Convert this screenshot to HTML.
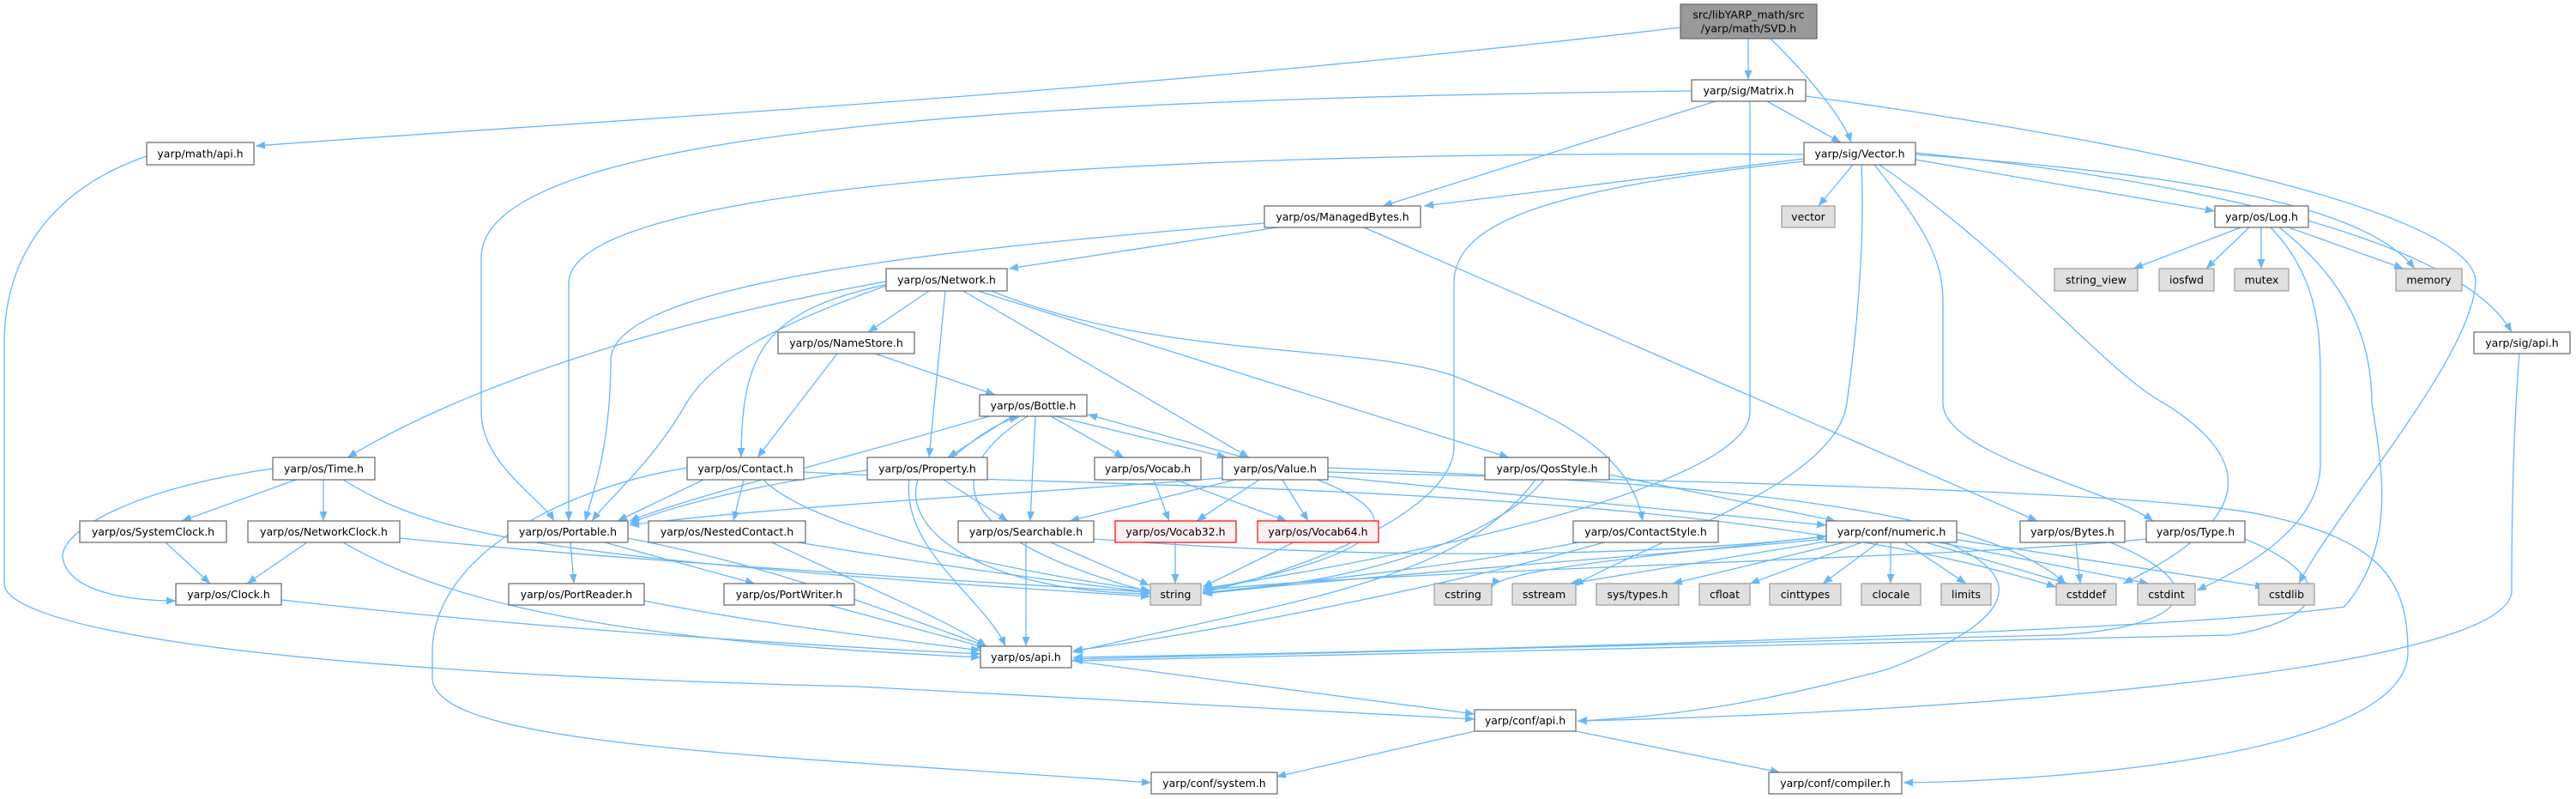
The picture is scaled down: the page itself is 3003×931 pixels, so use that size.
<!DOCTYPE html>
<html><head><meta charset="utf-8"><style>
html,body{margin:0;padding:0;background:#fff;}
svg{display:block;}
text{font-family:"DejaVu Sans","Liberation Sans",sans-serif;font-size:12.5px;fill:#000;text-anchor:middle;dominant-baseline:central;}
.e{fill:none;stroke:#63b8ff;stroke-width:1.3;marker-end:url(#a);}
.n{fill:#fff;stroke:#666;stroke-width:1.2;}
.g{fill:#e0e0e0;stroke:#999;stroke-width:1.2;}
.r{fill:#fff0f0;stroke:#f00;stroke-width:1.2;}
.s{fill:#999;stroke:#666;stroke-width:1.2;}
</style></head><body>
<svg width="3003" height="931" viewBox="0 0 3003 931" xmlns="http://www.w3.org/2000/svg">
<defs><marker id="a" markerUnits="userSpaceOnUse" markerWidth="12" markerHeight="10" refX="11" refY="4.5" orient="auto"><path d="M0,0 L11,4.5 L0,9 z" fill="#63b8ff"/></marker></defs>
<g>
<path class="e" d="M1959,32 C1300,110 700,140 298,170"/>
<path class="e" d="M2038,45 L2038,93"/>
<path class="e" d="M2064,45 C2110,90 2150,140 2158,166"/>
<path class="e" d="M2060,118 L2146,166"/>
<path class="e" d="M2000,118 L1612,240"/>
<path class="e" d="M1972,106 C1200,115 561,150 561,300 L561,480 C561,540 630,580 646,607"/>
<path class="e" d="M2103,180 C1500,175 663,200 663,330 L663,607"/>
<path class="e" d="M1474,260 C1100,290 712,330 712,420 C712,520 690,580 682,607"/>
<path class="e" d="M2040,118 L2040,480 C2040,560 1700,640 1402,686"/>
<path class="e" d="M2105,112 C2600,180 2890,260 2886,330 C2880,420 2720,600 2680,680"/>
<path class="e" d="M2233,178 C2650,220 2880,300 2928,387"/>
<path class="e" d="M2103,185 L1660,240"/>
<path class="e" d="M2103,188 C1800,220 1695,260 1695,330 L1695,520 C1695,600 1500,670 1402,690"/>
<path class="e" d="M2160,192 L2120,240"/>
<path class="e" d="M2233,186 L2582,246"/>
<path class="e" d="M2233,180 C2500,200 2750,230 2815,313"/>
<path class="e" d="M2185,192 C2240,260 2265,300 2265,350 L2265,470 C2265,530 2460,570 2510,607"/>
<path class="e" d="M2191,192 C2350,300 2450,430 2523,470 C2620,530 2640,600 2475,680"/>
<path class="e" d="M2170,192 C2175,300 2160,420 2153,470 C2140,560 1950,620 1835,682"/>
<path class="e" d="M2612,265 L2487,313"/>
<path class="e" d="M2622,265 L2572,313"/>
<path class="e" d="M2636,265 L2636,313"/>
<path class="e" d="M2668,265 L2802,313"/>
<path class="e" d="M2647,265 C2700,320 2705,380 2705,440 L2705,540 C2705,620 2600,670 2561,688"/>
<path class="e" d="M2657,265 C2740,330 2765,400 2765,470 C2780,560 2790,640 2733,707 C2500,740 1600,760 1251,766"/>
<path class="e" d="M2937,412 C2930,500 2928,600 2928,690 C2920,780 2300,830 1839,840"/>
<path class="e" d="M1489,265 L1176,313"/>
<path class="e" d="M1590,265 L2375,607"/>
<path class="e" d="M1033,328 C800,370 560,440 405,533"/>
<path class="e" d="M1033,333 C900,380 830,420 800,470 C760,540 710,580 690,607"/>
<path class="e" d="M1040,330 C900,360 864,400 864,533"/>
<path class="e" d="M1083,339 L1012,387"/>
<path class="e" d="M1102,339 L1083,533"/>
<path class="e" d="M1123,339 L1456,533"/>
<path class="e" d="M1140,339 L1759,533"/>
<path class="e" d="M1156,339 C1350,420 1600,400 1700,440 C1800,480 1900,520 1915,607"/>
<path class="e" d="M976,412 L883,533"/>
<path class="e" d="M1020,412 L1160,460"/>
<path class="e" d="M1230,485 L1430,533"/>
<path class="e" d="M1450,533 L1268,483"/>
<path class="e" d="M1180,485 L1105,533"/>
<path class="e" d="M1110,533 C1150,500 1170,490 1188,486"/>
<path class="e" d="M1225,485 L1310,533"/>
<path class="e" d="M1207,485 L1201,607"/>
<path class="e" d="M1198,485 C1110,540 1080,620 1341,690"/>
<path class="e" d="M1153,485 C1000,530 800,580 734,607"/>
<path class="e" d="M1548,550 C1900,560 2500,570 2638,600 C2780,630 2807,680 2807,760 C2807,880 2400,910 2219,912"/>
<path class="e" d="M1548,555 L2129,612"/>
<path class="e" d="M1548,545 C1900,560 2300,580 2408,680"/>
<path class="e" d="M1536,559 C1640,600 1640,640 1402,688"/>
<path class="e" d="M1425,557 C1200,575 900,590 734,612"/>
<path class="e" d="M1440,559 L1247,607"/>
<path class="e" d="M1468,559 L1395,607"/>
<path class="e" d="M1495,559 L1525,607"/>
<path class="e" d="M1345,559 L1363,607"/>
<path class="e" d="M1370,559 L1500,607"/>
<path class="e" d="M1100,559 L1175,607"/>
<path class="e" d="M1070,559 C1050,620 1150,690 1341,692"/>
<path class="e" d="M1060,559 C1050,640 1150,700 1172,753"/>
<path class="e" d="M1011,548 C900,560 780,590 734,610"/>
<path class="e" d="M1225,632 L1340,682"/>
<path class="e" d="M1196,632 L1196,753"/>
<path class="e" d="M1275,628 C1700,660 2000,640 2129,625"/>
<path class="e" d="M1370,632 L1370,680"/>
<path class="e" d="M1508,632 L1402,684"/>
<path class="e" d="M1800,559 C1750,620 1600,680 1402,690"/>
<path class="e" d="M1790,559 C1700,680 1500,700 1251,760"/>
<path class="e" d="M1876,553 L2140,607"/>
<path class="e" d="M1840,632 C1700,660 1500,680 1402,691"/>
<path class="e" d="M1870,632 C1700,680 1400,740 1251,758"/>
<path class="e" d="M2129,625 C1900,650 1750,665 1739,684"/>
<path class="e" d="M2135,630 L1830,680"/>
<path class="e" d="M2150,632 L1950,680"/>
<path class="e" d="M2170,632 L2040,680"/>
<path class="e" d="M2190,632 L2125,680"/>
<path class="e" d="M2204,632 L2204,680"/>
<path class="e" d="M2220,632 L2292,680"/>
<path class="e" d="M2245,632 L2410,680"/>
<path class="e" d="M2260,632 L2505,680"/>
<path class="e" d="M2275,628 L2640,684"/>
<path class="e" d="M2129,628 C1900,650 1600,670 1402,692"/>
<path class="e" d="M2268,632 C2360,670 2360,720 2200,780 C2050,820 1950,835 1839,840"/>
<path class="e" d="M2420,632 L2425,680"/>
<path class="e" d="M2460,632 C2580,680 2560,730 2400,740 L1251,768"/>
<path class="e" d="M2502,628 C2300,650 1600,665 1402,688"/>
<path class="e" d="M2617,628 C2720,670 2720,720 2600,740 L1251,770"/>
<path class="e" d="M867,559 L855,607"/>
<path class="e" d="M820,559 L720,607"/>
<path class="e" d="M890,559 C950,620 1200,670 1341,688"/>
<path class="e" d="M937,550 C1300,570 2000,560 2397,684"/>
<path class="e" d="M801,545 C650,570 504,650 504,760 L504,790 C504,870 900,880 1342,912"/>
<path class="e" d="M930,632 C1100,660 1250,680 1341,690"/>
<path class="e" d="M900,632 C1000,680 1100,720 1150,753"/>
<path class="e" d="M345,559 L212,607"/>
<path class="e" d="M377,559 L377,607"/>
<path class="e" d="M318,546 C150,570 70,620 73,650 C80,690 150,700 205,700"/>
<path class="e" d="M400,559 C500,620 600,650 1341,695"/>
<path class="e" d="M193,632 L245,680"/>
<path class="e" d="M358,632 L288,680"/>
<path class="e" d="M466,627 C700,650 1000,670 1341,690"/>
<path class="e" d="M400,632 C550,720 800,750 1143,766"/>
<path class="e" d="M328,699 C600,730 900,750 1143,762"/>
<path class="e" d="M665,632 L669,680"/>
<path class="e" d="M705,632 L880,680"/>
<path class="e" d="M732,627 C900,660 1000,700 1150,753"/>
<path class="e" d="M751,700 C900,730 1050,745 1143,758"/>
<path class="e" d="M966,705 L1150,755"/>
<path class="e" d="M171,182 C60,220 5,300 5,400 L5,680 C5,720 200,780 1000,800 C1300,815 1600,830 1719,838"/>
<path class="e" d="M1249,770 L1719,832"/>
<path class="e" d="M1719,852 L1488,905"/>
<path class="e" d="M1837,852 L2075,900"/>
</g>
<g>
<rect class="s" x="1959" y="5" width="159" height="40"/><text x="2038.5" y="17">src/libYARP_math/src</text><text x="2038.5" y="33">/yarp/math/SVD.h</text>
<rect class="n" x="1972" y="93" width="133" height="25"/><text x="2038.5" y="105.5">yarp/sig/Matrix.h</text>
<rect class="n" x="2103" y="166" width="130" height="26"/><text x="2168" y="179">yarp/sig/Vector.h</text>
<rect class="n" x="171" y="166" width="125" height="26"/><text x="233.5" y="179">yarp/math/api.h</text>
<rect class="n" x="1474" y="240" width="182" height="25"/><text x="1565" y="252.5">yarp/os/ManagedBytes.h</text>
<rect class="g" x="2077" y="240" width="62" height="25"/><text x="2108" y="252.5">vector</text>
<rect class="n" x="2582" y="240" width="109" height="25"/><text x="2636.5" y="252.5">yarp/os/Log.h</text>
<rect class="n" x="1033" y="313" width="141" height="26"/><text x="1103.5" y="326">yarp/os/Network.h</text>
<rect class="g" x="2395" y="313" width="97" height="26"/><text x="2443.5" y="326">string_view</text>
<rect class="g" x="2517" y="313" width="64" height="26"/><text x="2549" y="326">iosfwd</text>
<rect class="g" x="2605" y="313" width="63" height="26"/><text x="2636.5" y="326">mutex</text>
<rect class="g" x="2793" y="313" width="77" height="26"/><text x="2831.5" y="326">memory</text>
<rect class="n" x="907" y="387" width="159" height="25"/><text x="986.5" y="399.5">yarp/os/NameStore.h</text>
<rect class="n" x="2884" y="387" width="112" height="25"/><text x="2940" y="399.5">yarp/sig/api.h</text>
<rect class="n" x="1142" y="460" width="125" height="25"/><text x="1204.5" y="472.5">yarp/os/Bottle.h</text>
<rect class="n" x="318" y="533" width="119" height="26"/><text x="377.5" y="546">yarp/os/Time.h</text>
<rect class="n" x="801" y="533" width="136" height="26"/><text x="869" y="546">yarp/os/Contact.h</text>
<rect class="n" x="1011" y="533" width="140" height="26"/><text x="1081" y="546">yarp/os/Property.h</text>
<rect class="n" x="1276" y="533" width="124" height="26"/><text x="1338" y="546">yarp/os/Vocab.h</text>
<rect class="n" x="1425" y="533" width="123" height="26"/><text x="1486.5" y="546">yarp/os/Value.h</text>
<rect class="n" x="1731" y="533" width="145" height="26"/><text x="1803.5" y="546">yarp/os/QosStyle.h</text>
<rect class="n" x="93" y="607" width="171" height="25"/><text x="178.5" y="619.5">yarp/os/SystemClock.h</text>
<rect class="n" x="289" y="607" width="177" height="25"/><text x="377.5" y="619.5">yarp/os/NetworkClock.h</text>
<rect class="n" x="592" y="607" width="140" height="25"/><text x="662" y="619.5">yarp/os/Portable.h</text>
<rect class="n" x="756" y="607" width="183" height="25"/><text x="847.5" y="619.5">yarp/os/NestedContact.h</text>
<rect class="n" x="1117" y="607" width="158" height="25"/><text x="1196" y="619.5">yarp/os/Searchable.h</text>
<rect class="r" x="1300" y="607" width="141" height="25"/><text x="1370.5" y="619.5">yarp/os/Vocab32.h</text>
<rect class="r" x="1466" y="607" width="141" height="25"/><text x="1536.5" y="619.5">yarp/os/Vocab64.h</text>
<rect class="n" x="1834" y="607" width="169" height="25"/><text x="1918.5" y="619.5">yarp/os/ContactStyle.h</text>
<rect class="n" x="2129" y="607" width="152" height="25"/><text x="2205" y="619.5">yarp/conf/numeric.h</text>
<rect class="n" x="2355" y="607" width="122" height="25"/><text x="2416" y="619.5">yarp/os/Bytes.h</text>
<rect class="n" x="2502" y="607" width="115" height="25"/><text x="2559.5" y="619.5">yarp/os/Type.h</text>
<rect class="n" x="205" y="680" width="123" height="25"/><text x="266.5" y="692.5">yarp/os/Clock.h</text>
<rect class="n" x="593" y="680" width="158" height="25"/><text x="672" y="692.5">yarp/os/PortReader.h</text>
<rect class="n" x="844" y="680" width="152" height="25"/><text x="920" y="692.5">yarp/os/PortWriter.h</text>
<rect class="g" x="1341" y="680" width="59" height="25"/><text x="1370.5" y="692.5">string</text>
<rect class="g" x="1672" y="680" width="67" height="25"/><text x="1705.5" y="692.5">cstring</text>
<rect class="g" x="1763" y="680" width="74" height="25"/><text x="1800" y="692.5">sstream</text>
<rect class="g" x="1861" y="680" width="96" height="25"/><text x="1909" y="692.5">sys/types.h</text>
<rect class="g" x="1981" y="680" width="59" height="25"/><text x="2010.5" y="692.5">cfloat</text>
<rect class="g" x="2063" y="680" width="83" height="25"/><text x="2104.5" y="692.5">cinttypes</text>
<rect class="g" x="2170" y="680" width="69" height="25"/><text x="2204.5" y="692.5">clocale</text>
<rect class="g" x="2263" y="680" width="58" height="25"/><text x="2292" y="692.5">limits</text>
<rect class="g" x="2397" y="680" width="70" height="25"/><text x="2432" y="692.5">cstddef</text>
<rect class="g" x="2492" y="680" width="67" height="25"/><text x="2525.5" y="692.5">cstdint</text>
<rect class="g" x="2633" y="680" width="65" height="25"/><text x="2665.5" y="692.5">cstdlib</text>
<rect class="n" x="1143" y="753" width="106" height="25"/><text x="1196" y="765.5">yarp/os/api.h</text>
<rect class="n" x="1719" y="827" width="118" height="25"/><text x="1778" y="839.5">yarp/conf/api.h</text>
<rect class="n" x="1342" y="900" width="147" height="25"/><text x="1415.5" y="912.5">yarp/conf/system.h</text>
<rect class="n" x="2062" y="900" width="155" height="25"/><text x="2139.5" y="912.5">yarp/conf/compiler.h</text>
</g>
</svg>
</body></html>
